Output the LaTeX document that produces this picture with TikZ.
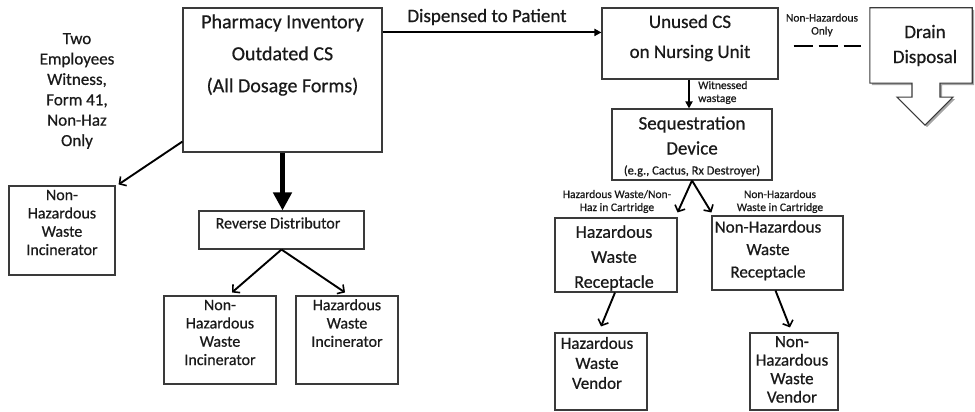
\documentclass[tikz,border=0pt]{standalone}
\usepackage{fontspec}
\setmainfont{Carlito}[FakeBold=0.6]
\usetikzlibrary{arrows.meta,shadows}
\definecolor{boxgray}{HTML}{3A3A3A}
\definecolor{ink}{HTML}{1A1A1A}
\begin{document}
\begin{tikzpicture}[x=1pt,y=-1pt,
  box/.style={draw=boxgray, line width=1.1pt, inner sep=0pt, fill=white},
  txt/.style={align=center, inner sep=0pt, text=ink},
  big/.style={txt, font=\fontsize{19}{30}\selectfont},
  mid/.style={txt, font=\fontsize{16}{18.3}\selectfont},
  tiny/.style={txt, font=\fontsize{11.5}{13}\selectfont},
  barb/.style={-{Straight Barb[length=5pt,width=11pt,line width=1.6pt]}, line width=1.9pt, draw=black},
  solid tip/.style={-{Triangle[length=7pt,width=7pt]}, line width=2pt, draw=black},
  heavy/.style={-{Triangle[length=18pt,width=18pt]}, line width=5.5pt, draw=black},
  dashline/.style={line width=2.2pt, dash pattern=on 19pt off 6pt, draw=black}]
\useasboundingbox (0,0) rectangle (975,412);

% ---------- pharmacy branch ----------
\node[box, minimum width=199pt, minimum height=144pt] (pharm) at (282.5,80) {};
\node[big, font=\fontsize{20}{32}\selectfont] (pharmtxt) at (282.5,55)
  {Pharmacy Inventory\\Outdated CS\\(All Dosage Forms)};

\node[txt, font=\fontsize{17}{20.4}\selectfont] (witnote) at (77,91)
  {Two\\Employees\\Witness,\\Form 41,\\Non-Haz\\Only};

\node[box, minimum width=106pt, minimum height=89pt] (lbox) at (62,230.5) {};
\node[mid] (lboxtxt) at (62,222.5) {Non-\\Hazardous\\Waste\\Incinerator};

\node[box, minimum width=165pt, minimum height=38pt] (revd) at (281.5,230) {};
\node[mid] (revdtxt) at (278,223) {Reverse Distributor};

\node[box, minimum width=112pt, minimum height=88pt] (nhinc) at (220,340) {};
\node[mid] (nhinctxt) at (220,332.5) {Non-\\Hazardous\\Waste\\Incinerator};

\node[box, minimum width=102pt, minimum height=88pt] (hinc) at (347,340) {};
\node[mid] (hinctxt) at (347,323) {Hazardous\\Waste\\Incinerator};

% ---------- nursing unit branch ----------
\node[txt, font=\fontsize{19}{24}\selectfont] (displab) at (487,17) {Dispensed to Patient};

\node[box, minimum width=176pt, minimum height=71pt] (unused) at (690,43.5) {};
\node[big] (unusedtxt) at (690,38) {Unused CS\\on Nursing Unit};

\node[box, minimum width=160pt, minimum height=71pt] (seq) at (692,144.5) {};
\node[big, font=\fontsize{19}{25}\selectfont] (seqtxt) at (692,135.5) {Sequestration\\Device};
\node[tiny, font=\fontsize{12.5}{14}\selectfont] (seqex) at (692,171) {(e.g., Cactus, Rx Destroyer)};

\node[tiny, align=left, anchor=west] (witlab) at (698,92.5) {Witnessed\\wastage};
\node[tiny] (nhonly) at (822,25) {Non-Hazardous\\Only};

\node[tiny] (hzlab) at (617,201.5) {Hazardous Waste/Non-\\Haz in Cartridge};
\node[tiny] (nhlab) at (780,201.5) {Non-Hazardous\\Waste in Cartridge};

\node[box, minimum width=122pt, minimum height=74pt] (hrec) at (616,255) {};
\node[big, font=\fontsize{18}{25}\selectfont] (hrectxt) at (614,258) {Hazardous\\Waste\\Receptacle};

\node[box, minimum width=131pt, minimum height=74pt] (nrec) at (777.5,253) {};
\node[big, font=\fontsize{17}{22.5}\selectfont] (nrectxt) at (768,250.5) {Non-Hazardous\\Waste\\Receptacle};

\node[box, minimum width=92pt, minimum height=77pt] (hven) at (601,371.5) {};
\node[txt, font=\fontsize{17}{20}\selectfont] (hventxt) at (597,363) {Hazardous\\Waste\\Vendor};

\node[box, minimum width=88pt, minimum height=77pt] (nven) at (794,371.5) {};
\node[txt, font=\fontsize{17}{18.5}\selectfont] (nventxt) at (792,369.5) {Non-\\Hazardous\\Waste\\Vendor};

% ---------- drain disposal callout ----------
\node[inner sep=0pt, minimum width=102pt, minimum height=75pt] (drain) at (921,45.5) {};
\draw[draw=boxgray, line width=1.1pt, fill=white,
      drop shadow={shadow xshift=2pt, shadow yshift=-2pt, opacity=0.35, fill=black}]
  (drain.north west) -- (drain.north east) -- (drain.south east)
  -- ([xshift=19pt]drain.south) -- ([xshift=19pt,yshift=-14pt]drain.south)
  -- ([xshift=32pt,yshift=-14pt]drain.south) -- ([xshift=4pt,yshift=-42pt]drain.south)
  -- ([xshift=-24pt,yshift=-14pt]drain.south) -- ([xshift=-9pt,yshift=-14pt]drain.south)
  -- ([xshift=-9pt]drain.south) -- (drain.south west) -- cycle;
\node[big, font=\fontsize{19}{25}\selectfont] (draintxt) at (925,45.5) {Drain\\Disposal};

% ---------- connectors ----------
\draw[barb] ([yshift=11pt]pharm.south west) -- ([xshift=3pt,yshift=1pt]lbox.north east);
\draw[heavy] (pharm.south) -- (pharm.south |- revd.north);
\draw[barb] (revd.south) -- ([xshift=12pt,yshift=3pt]nhinc.north);
\draw[barb] (revd.south) -- ([xshift=-2pt,yshift=3pt]hinc.north);

\draw[solid tip] ([yshift=-25pt]pharm.north east) -- ([yshift=-25pt]pharm.north east -| unused.west);
\draw[solid tip] ([xshift=-1pt]unused.south) -- ([xshift=-1pt]unused.south |- seq.north);
\draw[dashline] ([xshift=15pt,yshift=-2.5pt]unused.east) -- ([xshift=-9pt,yshift=-0.5pt]drain.west);

\draw[barb] (seq.south) -- ([yshift=5pt]hrec.north east);
\draw[barb] (seq.south) -- ([yshift=3pt]nrec.north west);
\draw[barb] ([xshift=-1pt]hrec.south) -- ([yshift=6pt]hven.north);
\draw[barb] ([xshift=-2pt]nrec.south) -- ([xshift=-4pt,yshift=5pt]nven.north);
\end{tikzpicture}
\end{document}
